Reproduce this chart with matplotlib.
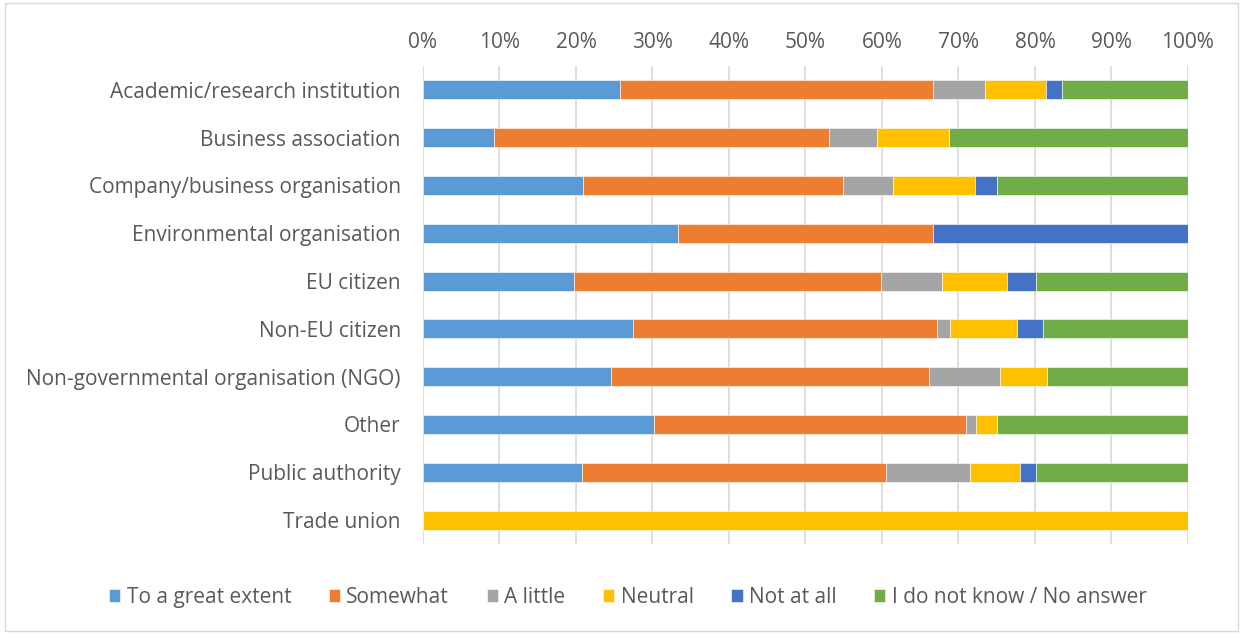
import matplotlib.pyplot as plt
import numpy as np
from matplotlib.patches import Rectangle
from matplotlib.ticker import PercentFormatter

categories = [
    'Academic/research institution',
    'Business association',
    'Company/business organisation',
    'Environmental organisation',
    'EU citizen',
    'Non-EU citizen',
    'Non-governmental organisation (NGO)',
    'Other',
    'Public authority',
    'Trade union',
]
series = ['To a great extent', 'Somewhat', 'A little', 'Neutral', 'Not at all',
          'I do not know / No answer']

great_extent = [25.7, 9.3, 20.9, 33.3, 19.8, 27.5, 24.6, 30.2, 20.8, 0]
somewhat = [41.0, 43.8, 34.0, 33.4, 40.1, 39.7, 41.5, 40.8, 39.7, 0]
a_little = [6.8, 6.2, 6.5, 0, 8.0, 1.7, 9.3, 1.3, 11.0, 0]
neutral = [8.0, 9.5, 10.8, 0, 8.5, 8.7, 6.2, 2.7, 6.5, 100]
not_at_all = [2.1, 0, 2.9, 33.3, 3.8, 3.4, 0, 0, 2.2, 0]
dont_know = [16.4, 31.2, 24.9, 0, 19.8, 19.0, 18.4, 25.0, 19.8, 0]

colors = ['#5B9BD5', '#ED7D31', '#A5A5A5', '#FFC000', '#4472C4', '#70AD47']

plt.rcParams['font.family'] = ['Open Sans', 'DejaVu Sans']

fig = plt.figure(figsize=(12.43, 6.34), dpi=100)
ax = fig.add_axes([0.3403, 0.142, 0.6154, 0.7539])

data = [great_extent, somewhat, a_little, neutral, not_at_all, dont_know]
y = np.arange(len(categories))
left = np.zeros(len(categories))
for vals, name, c in zip(data, series, colors):
    vals = np.array(vals)
    ax.barh(y, vals, left=left, height=0.4, color=c, label=name,
            edgecolor='white', linewidth=0.4, zorder=3)
    left += vals

ax.set_xlim(0, 100)
ax.set_ylim(len(categories) - 0.5, -0.5)
ax.set_yticks(y)
ax.set_yticklabels(categories, fontsize=15, color='#595959')
ax.set_xticks(np.arange(0, 101, 10))
ax.xaxis.set_major_formatter(PercentFormatter(decimals=0))
ax.xaxis.tick_top()
ax.tick_params(axis='x', length=0, labelsize=15, labelcolor='#595959', pad=9)
ax.tick_params(axis='y', length=0, pad=16)
ax.grid(axis='x', color='#D9D9D9', linewidth=1.2, zorder=0)
for s in ax.spines.values():
    s.set_visible(False)

fig.legend(loc='center', bbox_to_anchor=(0.505, 0.058), ncol=6, frameon=False,
           fontsize=15, handlelength=0.55, handleheight=0.55, handletextpad=0.3,
           columnspacing=1.8, labelcolor='#595959')

fig.patches.append(Rectangle((0.004, 0.004), 0.992, 0.992, transform=fig.transFigure,
                             fill=False, edgecolor='#D9D9D9', linewidth=1))

fig.savefig('out.png', dpi=100)
